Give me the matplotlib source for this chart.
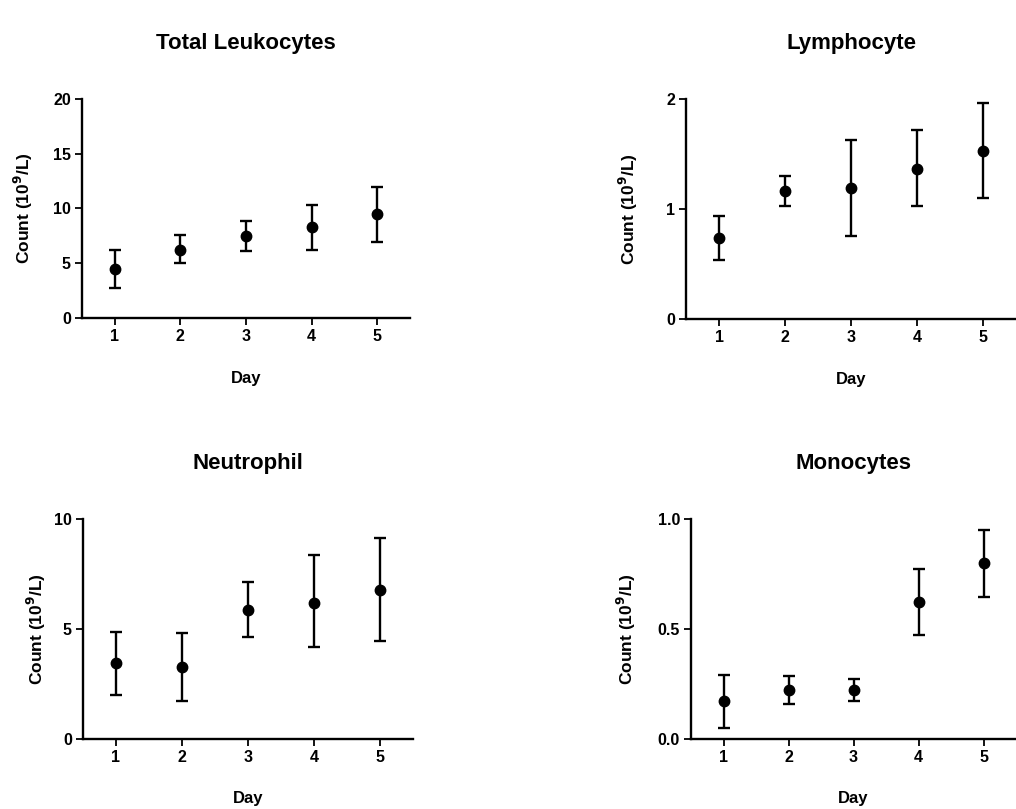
import matplotlib.pyplot as plt

plt.rcParams['font.family'] = ['Liberation Sans', 'DejaVu Sans']
plt.rcParams['font.weight'] = 'bold'

days = [1, 2, 3, 4, 5]

titles = ['Total Leukocytes', 'Lymphocyte', 'Neutrophil', 'Monocytes']

leuko_mean = [4.5, 6.24, 7.52, 8.34, 9.47]
leuko_low = [2.74, 4.99, 6.15, 6.24, 6.91]
leuko_high = [6.18, 7.58, 8.86, 10.35, 11.93]

lympho_mean = [0.74, 1.167, 1.194, 1.367, 1.527]
lympho_low = [0.536, 1.03, 0.758, 1.024, 1.103]
lympho_high = [0.936, 1.303, 1.63, 1.718, 1.96]

neutro_mean = [3.45, 3.29, 5.86, 6.2, 6.76]
neutro_low = [2.02, 1.74, 4.65, 4.2, 4.45]
neutro_high = [4.86, 4.83, 7.14, 8.35, 9.15]

mono_mean = [0.171, 0.223, 0.223, 0.621, 0.80]
mono_low = [0.052, 0.158, 0.175, 0.475, 0.645]
mono_high = [0.293, 0.288, 0.272, 0.774, 0.951]

panels = [
    (leuko_mean, leuko_low, leuko_high, [0, 5, 10, 15, 20], ['0', '5', '10', '15', '20']),
    (lympho_mean, lympho_low, lympho_high, [0, 1, 2], ['0', '1', '2']),
    (neutro_mean, neutro_low, neutro_high, [0, 5, 10], ['0', '5', '10']),
    (mono_mean, mono_low, mono_high, [0, 0.5, 1.0], ['0.0', '0.5', '1.0']),
]

W, H = 1016, 809
# axes boxes in pixels: left, top, right, bottom
boxes = [(82, 99, 410, 318), (686, 99, 1016, 319), (83, 519, 413, 739), (691, 519, 1016, 739)]
ylab_x = [-0.143, -0.139, -0.106, -0.163]
xlab_y = [-0.242, -0.242, -0.236, -0.236]

fig = plt.figure(figsize=(W / 100, H / 100), dpi=100)

for i, (mean, low, high, yt, ytl) in enumerate(panels):
    l, t, r, b = boxes[i]
    ax = fig.add_axes([l / W, 1 - b / H, (r - l) / W, (b - t) / H])
    err = [[m - lo for m, lo in zip(mean, low)], [hi - m for m, hi in zip(mean, high)]]
    ax.errorbar(days, mean, yerr=err, fmt='o', color='k', markersize=7.5,
                elinewidth=1.7, capsize=4.5, capthick=1.7, clip_on=False)
    ax.set_xlim(0.5, 5.5)
    ax.set_ylim(yt[0], yt[-1])
    ax.set_xticks(days)
    ax.set_xticklabels([str(d) for d in days], fontsize=11.5, fontweight='bold')
    ax.set_yticks(yt)
    ax.set_yticklabels(ytl, fontsize=11.5, fontweight='bold')
    for s in ['top', 'right']:
        ax.spines[s].set_visible(False)
    for s in ['left', 'bottom']:
        ax.spines[s].set_linewidth(1.7)
    ax.tick_params(width=1.3, length=5, direction='out', pad=3)
    ax.set_title(titles[i], fontsize=16, fontweight='bold', pad=36)
    ax.set_xlabel('Day', fontsize=12, fontweight='bold')
    ax.xaxis.set_label_coords(0.5, xlab_y[i])
    ax.set_ylabel(r'Count (10$^\mathbf{9}$/L)', fontsize=12.5, fontweight='bold')
    ax.yaxis.set_label_coords(ylab_x[i], 0.5)

plt.savefig('out.png', dpi=100)
